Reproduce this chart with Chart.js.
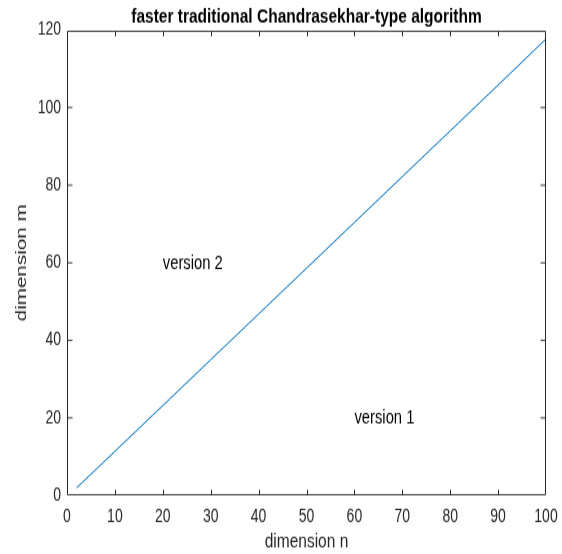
<!DOCTYPE html>
<html>
<head>
<meta charset="utf-8">
<script src="https://cdn.jsdelivr.net/npm/chart.js@4/dist/chart.umd.min.js"></script>
<style>
html,body{margin:0;padding:0;background:#fff;overflow:hidden;}
#wrap{width:562px;height:554px;position:relative;}
</style>
</head>
<body>
<div id="wrap"><canvas id="c" width="562" height="416" style="display:block;width:562px;height:554px;"></canvas></div>
<script>
// Data
const dimN = [2, 10, 20, 30, 40, 50, 60, 70, 80, 90, 100];
const dimM = [2, 11.4, 23.2, 35, 46.8, 58.6, 70.4, 82.2, 94, 105.8, 117.7];
const xTicks = [0, 10, 20, 30, 40, 50, 60, 70, 80, 90, 100];
const yTicks = [0, 20, 40, 60, 80, 100, 120];
const noteText = ['version 2', 'version 1'];
const noteX = [20, 60];
const noteY = [60, 20];
const titleText = 'faster traditional Chandrasekhar-type algorithm';

const FONT = '"Liberation Sans", Arial, Helvetica, sans-serif';
const AXIS_COLOR = '#262626';

const boxTicks = {
  id: 'boxTicks',
  afterDatasetsDraw(chart) {
    const {ctx, chartArea: a, scales: {x, y}} = chart;
    ctx.save();
    ctx.strokeStyle = AXIS_COLOR;
    const L = Math.round(a.left) + 0.5, R = Math.round(a.right) - 0.5;
    const T = Math.round(a.top) + 0.5, B = Math.round(a.bottom) - 0.5;
    ctx.lineWidth = 0.85;
    ctx.beginPath();
    ctx.moveTo(L, T); ctx.lineTo(R, T);
    ctx.moveTo(L, B); ctx.lineTo(R, B);
    ctx.stroke();
    ctx.lineWidth = 1;
    ctx.beginPath();
    ctx.moveTo(L, T); ctx.lineTo(L, B);
    ctx.moveTo(R, T); ctx.lineTo(R, B);
    const LX = 3.8, LY = 5;
    xTicks.slice(1, -1).forEach(v => {
      const px = Math.round(x.getPixelForValue(v)) + 0.5;
      ctx.moveTo(px, B); ctx.lineTo(px, B - LX);
      ctx.moveTo(px, T); ctx.lineTo(px, T + LX);
    });
    ctx.stroke();
    ctx.lineWidth = 0.85;
    ctx.beginPath();
    yTicks.slice(1, -1).forEach(v => {
      const py = y.getPixelForValue(v);
      ctx.moveTo(L, py); ctx.lineTo(L + LY, py);
      ctx.moveTo(R, py); ctx.lineTo(R - LY, py);
    });
    ctx.stroke();
    // annotations
    ctx.fillStyle = '#000';
    ctx.font = '14.8px ' + FONT;
    ctx.textAlign = 'left';
    ctx.textBaseline = 'middle';
    noteText.forEach((t, i) => {
      ctx.fillText(t, x.getPixelForValue(noteX[i]), y.getPixelForValue(noteY[i]) + 0.5);
    });
    // title
    ctx.font = 'bold 15.5px ' + FONT;
    ctx.textAlign = 'center';
    ctx.textBaseline = 'alphabetic';
    ctx.fillText(titleText, (a.left + a.right) / 2, 17);
    ctx.restore();
  }
};

new Chart(document.getElementById('c'), {
  type: 'line',
  data: {
    datasets: [{
      data: dimN.map((n, i) => ({x: n, y: dimM[i]})),
      borderColor: '#0072BD',
      borderWidth: 1,
      pointRadius: 0,
      tension: 0,
      fill: false
    }]
  },
  options: {
    responsive: false,
    animation: false,
    devicePixelRatio: 1,
    layout: {padding: {left: 0, right: 16, top: 22.5, bottom: 0}},
    plugins: {
      legend: {display: false},
      tooltip: {enabled: false},
      title: {display: false}
    },
    scales: {
      x: {
        type: 'linear', min: 0, max: 100,
        afterBuildTicks: s => { s.ticks = xTicks.map(v => ({value: v})); },
        afterFit: s => { s.height = 43.9; s.paddingLeft = 0; s.paddingRight = 0; },
        grid: {display: false, drawTicks: false},
        border: {display: false},
        ticks: {color: AXIS_COLOR, padding: 8, maxRotation: 0, font: {family: FONT, size: 14}},
        title: {display: true, text: 'dimension n', color: AXIS_COLOR,
                font: {family: FONT, size: 15.5}, padding: {top: 0, bottom: 0}}
      },
      y: {
        type: 'linear', min: 0, max: 120,
        afterBuildTicks: s => { s.ticks = yTicks.map(v => ({value: v})); },
        afterFit: s => { s.width = 67; s.paddingTop = 0; s.paddingBottom = 0; },
        grid: {display: false, drawTicks: false},
        border: {display: false},
        ticks: {color: AXIS_COLOR, padding: 6, font: {family: FONT, size: 14}},
        title: {display: true, text: 'dimension m', color: AXIS_COLOR,
                font: {family: FONT, size: 15.5}, padding: {top: 12.6, bottom: 0}}
      }
    }
  },
  plugins: [boxTicks]
});
</script>
</body>
</html>
